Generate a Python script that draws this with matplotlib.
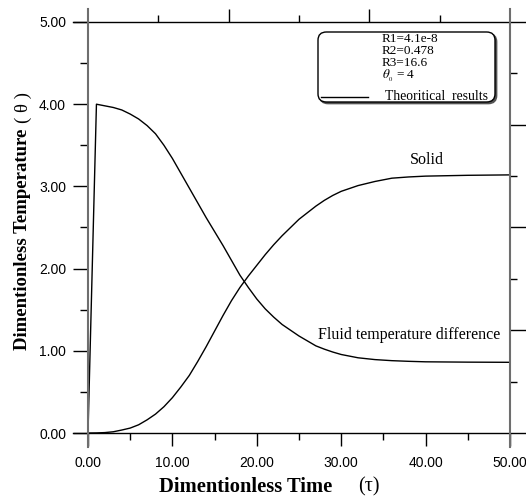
import matplotlib
matplotlib.use("Agg")
import matplotlib.pyplot as plt
from matplotlib.patches import FancyBboxPatch
from matplotlib.lines import Line2D

plt.rcParams['font.family'] = ['Liberation Sans', 'DejaVu Sans']
plt.rcParams['mathtext.fontset'] = 'stix'

# ---- data ----
tau_fluid = [0, 1, 2, 3, 4, 5, 6, 7, 8, 9, 10, 11, 12, 13, 14, 15, 16, 17, 18, 19, 20,
             21, 22, 23, 24, 25, 26, 27, 28, 29, 30, 32, 34, 36, 38, 40, 45, 50]
theta_fluid = [0.0, 4.00, 3.98, 3.96, 3.93, 3.88, 3.82, 3.74, 3.64, 3.50, 3.34, 3.16, 2.98,
               2.80, 2.62, 2.45, 2.28, 2.10, 1.92, 1.77, 1.63, 1.51, 1.41, 1.32, 1.25, 1.18,
               1.12, 1.06, 1.02, 0.985, 0.955, 0.915, 0.893, 0.88, 0.872, 0.866, 0.862, 0.86]
tau_solid = [0, 1, 2, 3, 4, 5, 6, 7, 8, 9, 10, 11, 12, 13, 14, 15, 16, 17, 18, 19, 20, 21,
             22, 23, 24, 25, 26, 27, 28, 29, 30, 32, 34, 36, 38, 40, 45, 50]
theta_solid = [0.0, 0.001, 0.005, 0.015, 0.036, 0.06, 0.10, 0.16, 0.23, 0.32, 0.43, 0.56,
               0.70, 0.87, 1.05, 1.24, 1.43, 1.61, 1.77, 1.91, 2.04, 2.17, 2.29, 2.40, 2.50,
               2.60, 2.68, 2.76, 2.83, 2.89, 2.94, 3.01, 3.06, 3.10, 3.115, 3.125, 3.135, 3.14]

x_major = [0, 10, 20, 30, 40, 50]
x_minor = [5, 15, 25, 35, 45]
y_major = [0, 1, 2, 3, 4, 5]
y_minor = [0.5, 1.5, 2.5, 3.5, 4.5]
x_labels = ["0.00", "10.00", "20.00", "30.00", "40.00", "50.00"]
y_labels = ["0.00", "1.00", "2.00", "3.00", "4.00", "5.00"]
top_major = [2, 4]          # top scale 0..6
top_minor = [1, 3, 5]
right_major = [2, 4, 6]     # right scale 0..8
right_minor = [1, 3, 5, 7]

legend_lines = ["R1=4.1e-8", "R2=0.478", "R3=16.6", r"$\theta_{_0}$ = 4"]
series_label = "Theoritical  results"

W, H = 526, 498
fig = plt.figure(figsize=(W / 100, H / 100), dpi=100)
ax = fig.add_axes([88 / W, 65 / H, 422 / W, 411 / H])

ax.plot(tau_fluid, theta_fluid, color='black', lw=1.0)
ax.plot(tau_solid, theta_solid, color='black', lw=1.0)
ax.set_xlim(0, 50)
ax.set_ylim(0, 5)

serif = ['Liberation Serif', 'DejaVu Serif']
ax.text(40.1, 3.32, "Solid", family=serif, fontsize=11.5, ha='center', va='center')
ax.text(38.0, 1.19, "Fluid temperature difference", family=serif, fontsize=11.5,
        ha='center', va='center')

# ticks
ax.set_xticks(x_major)
ax.set_xticklabels(x_labels)
ax.set_xticks(x_minor, minor=True)
ax.set_yticks(y_major)
ax.set_yticklabels(y_labels)
ax.set_yticks(y_minor, minor=True)
ax.tick_params(axis='x', which='major', direction='out', length=9.4, width=1, pad=7,
               labelsize=10, colors='black')
ax.tick_params(axis='x', which='minor', direction='out', length=5, width=1)
ax.tick_params(axis='y', which='major', direction='out', length=10.8, width=1, pad=5,
               labelsize=10)
ax.tick_params(axis='y', which='minor', direction='out', length=5.8, width=1)

for s in ax.spines.values():
    s.set_visible(False)

top = ax.secondary_xaxis('top', functions=(lambda v: v * 6 / 50, lambda v: v * 50 / 6))
top.set_xticks(top_major)
top.set_xticks(top_minor, minor=True)
top.tick_params(which='major', direction='out', length=9.4, width=1, labeltop=False)
top.tick_params(which='minor', direction='out', length=5, width=1)
for s in top.spines.values():
    s.set_visible(False)

right = ax.secondary_yaxis('right', functions=(lambda v: v * 8 / 5, lambda v: v * 5 / 8))
right.set_yticks(right_major)
right.set_yticks(right_minor, minor=True)
right.tick_params(which='major', direction='out', length=11.5, width=1, labelright=False)
right.tick_params(which='minor', direction='out', length=5, width=1)
for s in right.spines.values():
    s.set_visible(False)

# extended frame lines
T = ax.transAxes
for (xs, ys, c, lw) in [((-0.0355, 1.04), (1, 1), 'black', 1.0),
                        ((-0.0355, 1.04), (0, 0), 'black', 1.0),
                        ((0, 0), (-0.034, 1.032), '#6e6e6e', 1.5),
                        ((1, 1), (-0.034, 1.032), '#6e6e6e', 1.5)]:
    ax.add_line(Line2D(xs, ys, color=c, lw=lw, transform=T, clip_on=False))

# legend box
def ax_x(px):
    return (px - 88) / 422

def ax_y(py):
    return (433 - py) / 411

bx0, bx1, by0, by1 = ax_x(318), ax_x(495), ax_y(102), ax_y(32)
shadow = FancyBboxPatch((bx0 + 0.004, by0 - 0.004), bx1 - bx0, by1 - by0,
                        boxstyle="round,pad=0,rounding_size=0.02", transform=T,
                        facecolor='#555555', edgecolor='#555555', lw=1, zorder=5)
box = FancyBboxPatch((bx0, by0), bx1 - bx0, by1 - by0,
                     boxstyle="round,pad=0,rounding_size=0.02", transform=T,
                     facecolor='white', edgecolor='black', lw=1, zorder=6)
ax.add_patch(shadow)
ax.add_patch(box)
for txt, py in zip(legend_lines, [39.5, 51.5, 63, 76]):
    ax.text(ax_x(382), ax_y(py), txt, transform=T, family=serif, fontsize=9.5,
            ha='left', va='center', zorder=7)
ax.add_line(Line2D([ax_x(321), ax_x(368)], [ax_y(96.7), ax_y(96.7)], color='black', lw=1,
                   transform=T, zorder=7))
ax.text(ax_x(385), ax_y(96.5), series_label, transform=T, family=serif, fontsize=9.8,
        ha='left', va='center', zorder=7)

# axis labels
fig.text(159 / W, (H - 491.5) / H, "Dimentionless Time", family=serif, fontsize=14.8,
         fontweight='bold', ha='left', va='baseline')
fig.text(358 / W, (H - 491.5) / H, "(τ)", family=serif, fontsize=14.5,
         ha='left', va='baseline')
fig.text(23 / W, (H - 350) / H, "Dimentionless Temperature", family=serif, fontsize=13.5,
         fontweight='bold', rotation=90, ha='center', va='bottom')
fig.text(23 / W, (H - 123) / H, "( θ )", family=serif, fontsize=13.5,
         rotation=90, ha='center', va='bottom')

fig.savefig("out.png", dpi=100)
